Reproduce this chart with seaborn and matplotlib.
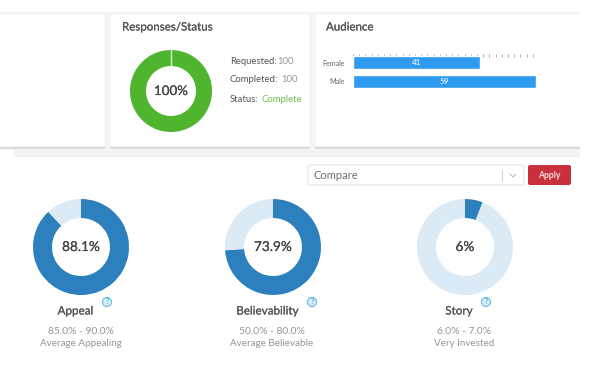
import matplotlib
matplotlib.use('Agg')
import matplotlib.pyplot as plt
import matplotlib.patheffects as pe
from matplotlib.patches import Rectangle, FancyBboxPatch, Circle
import pandas as pd
import seaborn as sns

# --- data ---
audience_labels = ['Female', 'Male']
audience_values = [41, 59]
score_names = ['Appeal', 'Believability', 'Story']
score_values = [88.1, 73.9, 6]
score_labels = ['88.1%', '73.9%', '6%']
score_ranges = ['85.0% - 90.0%', '50.0% - 80.0%', '6.0% - 7.0%']
score_notes = ['Average Appealing', 'Average Believable', 'Very Invested']
status_lines = ['Requested:', 'Completed:', 'Status:']
status_values = ['100', '100', 'Complete']
response_pct = 100

W, H = 600, 367
BLUE = '#2b80bd'
PALE = '#dceaf6'
GREEN = '#4fb52f'
BAR = '#2e9bf0'
DARK = '#555555'
GREY = '#969696'
HEAVY = [pe.withStroke(linewidth=0.12, foreground=DARK)]

sns.set_theme(style='white')
plt.rcParams['font.family'] = ['Lato', 'DejaVu Sans']

fig = plt.figure(figsize=(6, 3.67), dpi=100, facecolor='white')
bg = fig.add_axes([0, 0, 1, 1])
bg.set_xlim(0, W)
bg.set_ylim(H, 0)
bg.axis('off')


def pix_axes(x0, y0, x1, y1):
    return fig.add_axes([x0 / W, 1 - y1 / H, (x1 - x0) / W, (y1 - y0) / H])


def card(x0, y0, x1, y1):
    bg.add_patch(FancyBboxPatch((x0, y0 + 1.5), x1 - x0, y1 - y0, boxstyle='round,pad=0,rounding_size=2',
                                fc='#b9b9b9', ec='none', alpha=0.7, zorder=2))
    bg.add_patch(FancyBboxPatch((x0, y0), x1 - x0, y1 - y0, boxstyle='round,pad=0,rounding_size=2',
                                fc='white', ec='#f0f0f0', lw=0.5, zorder=3))


def donut(cx, cy, r_out, r_in, pct, main, rest, label, size, gap=False):
    ax = pix_axes(cx - r_out, cy - r_out, cx + r_out, cy + r_out)
    vals = [pct, 100 - pct]
    ax.pie(vals, colors=[main, rest], startangle=90, counterclock=False, radius=1,
           wedgeprops=dict(width=1 - r_in / r_out, linewidth=0))
    ax.set_xlim(-1, 1)
    ax.set_ylim(-1, 1)
    ax.text(0, 0, label, ha='center', va='center', fontsize=size, color='#444444',
            path_effects=[pe.withStroke(linewidth=0.12, foreground='#444444')])
    if gap:
        ax.plot([0, 0], [r_in / r_out, 1], color='#dff0d8', lw=1)


# page bands
bg.add_patch(Rectangle((0, 12), 580, 138, fc='#f5f5f5', ec='none', zorder=1))
bg.add_patch(Rectangle((14, 148), 566, 9, fc='#f3f3f3', ec='none', zorder=1))
card(-5, 14, 105, 147)
card(110, 14, 310, 147)
card(315, 14, 585, 147)
bg.add_patch(Rectangle((580, 0), 20, 160, fc='white', ec='none', zorder=4))

# responses card
bg.text(122, 27, 'Responses/Status', fontsize=8.3, color=DARK, va='center', zorder=5, path_effects=HEAVY)
donut(171, 91, 41, 25, response_pct, GREEN, GREEN, f'{response_pct}%', 9.6, gap=True)
ys = [61.5, 80, 99]
for lab, val, y in zip(status_lines, status_values, ys):
    t = bg.text(230, y, lab, fontsize=6.8, color=DARK, va='center', zorder=5)
    ext = t.get_window_extent(fig.canvas.get_renderer())
    col = '#6cc04a' if val == 'Complete' else GREY
    bg.text(ext.x1 + (0.5 if lab == 'Requested:' else 3), y, val, fontsize=6.8, color=col, va='center', zorder=5)

# audience card
bg.text(326, 27, 'Audience', fontsize=8.3, color=DARK, va='center', zorder=5, path_effects=HEAVY)
bar_ax = pix_axes(353, 53.5, 536, 90.5)
df = pd.DataFrame({'group': audience_labels, 'count': audience_values})
sns.barplot(data=df, x='count', y='group', color=BAR, saturation=1, width=0.68, ax=bar_ax)
bar_ax.patch.set_alpha(0)
bar_ax.set_xlim(0, max(audience_values))
bar_ax.set_xlabel('')
bar_ax.set_ylabel('')
bar_ax.xaxis.tick_top()
bar_ax.set_xticks(range(0, max(audience_values) + 1, 2))
bar_ax.set_xticklabels([])
bar_ax.tick_params(axis='x', direction='in', length=2.2, width=0.5, color='#8a8a8a', pad=0, top=True)
bar_ax.tick_params(axis='y', length=0, labelsize=5.1, labelcolor='#666666', pad=6)
sns.despine(ax=bar_ax, left=True, bottom=True, right=True, top=True)
for p, v in zip(bar_ax.patches, audience_values):
    bar_ax.text(v / 2, p.get_y() + p.get_height() / 2, str(v), ha='center', va='center',
                fontsize=5.8, color='#d8ecfb', fontweight='bold')

# compare control
bg.add_patch(FancyBboxPatch((308, 165), 216, 20, boxstyle='round,pad=0,rounding_size=2', fc='white',
                            ec='#e2e2e2', lw=0.7, zorder=5))
bg.text(313, 175.5, 'Compare', fontsize=8, color='#6f6f6f', va='center', zorder=6)
bg.plot([502, 502], [170, 181], color='#cfcfcf', lw=0.7, zorder=6)
bg.plot([510, 513, 516], [174, 177, 174], color='#b5b5b5', lw=0.7, zorder=6)
bg.add_patch(FancyBboxPatch((528, 165), 43, 20, boxstyle='round,pad=0,rounding_size=2', fc='#c8303c',
                            ec='none', zorder=5))
bg.text(549.5, 175, 'Apply', fontsize=6.2, color='#f6dcdc', ha='center', va='center',
        fontweight='bold', zorder=6)

# score donuts
centres = [81, 273, 465]
name_x = [75.5, 267.5, 459]
info_x = [80.5, 272, 464]
help_x = [107, 312, 486]
for i, cx in enumerate(centres):
    donut(cx, 247, 48, 29, score_values[i], BLUE, PALE, score_labels[i], 9.8)
    bg.text(name_x[i], 311, score_names[i], fontsize=8.4, color=DARK, ha='center', va='center',
            zorder=5, path_effects=HEAVY)
    bg.text(info_x[i], 332, score_ranges[i], fontsize=7.4, color=GREY, ha='center', va='center', zorder=5)
    bg.text(info_x[i], 344, score_notes[i], fontsize=7.1, color=GREY, ha='center', va='center', zorder=5)
    bg.add_patch(Circle((help_x[i], 302), 4.5, fc='#d5eef8', ec='#63bcdc', lw=0.8, zorder=5))
    bg.text(help_x[i], 302, '?', fontsize=5, color='#3b9cc4', ha='center', va='center', zorder=6)

fig.savefig('out.png', dpi=100)
